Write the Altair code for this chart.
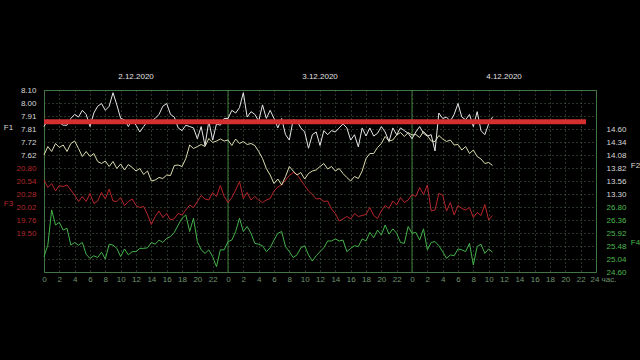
import altair as alt
import pandas as pd

# ---- data ----
f1 = [7.83,7.88,7.85,7.87,7.86,7.84,7.84,7.89,7.92,7.90,
      7.95,7.92,7.83,7.93,7.98,8.00,7.95,7.98,8.08,7.99,
      7.89,7.88,7.83,7.88,7.84,7.79,7.83,7.87,7.87,7.89,
      7.92,7.98,8.00,7.92,7.90,7.82,7.80,7.84,7.83,7.82,
      7.74,7.83,7.69,7.87,7.73,7.85,7.84,7.89,7.89,7.95,
      7.93,7.97,8.08,7.90,7.94,7.92,7.87,7.99,7.89,7.95,
      7.89,7.82,7.89,7.77,7.73,7.88,7.87,7.82,7.79,7.67,
      7.77,7.79,7.69,7.80,7.77,7.80,7.79,7.82,7.85,7.82,
      7.73,7.77,7.68,7.82,7.76,7.82,7.76,7.78,7.83,7.79,
      7.72,7.82,7.77,7.82,7.80,7.78,7.74,7.79,7.83,7.78,
      7.76,7.77,7.65,7.93,7.89,7.90,7.87,7.92,8.00,7.90,
      7.88,7.92,7.83,7.94,7.80,7.77,7.85,7.90]

f2 = [14.08,14.25,14.15,14.31,14.23,14.28,14.15,14.31,14.36,14.21,
      14.05,14.15,14.05,14.11,13.95,13.91,13.96,13.85,13.95,13.81,
      13.90,13.78,13.89,13.83,13.76,13.81,13.69,13.76,13.56,13.58,
      13.63,13.61,13.68,13.67,13.87,13.88,13.85,14.01,14.28,14.21,
      14.25,14.29,14.25,14.41,14.33,14.36,14.40,14.36,14.38,14.27,
      14.40,14.31,14.35,14.29,14.31,14.27,14.15,14.01,13.81,13.68,
      13.51,13.60,13.48,13.65,13.85,13.76,13.68,13.73,13.60,13.71,
      13.76,13.78,13.85,13.91,13.80,13.85,13.76,13.81,13.71,13.63,
      13.56,13.65,13.61,13.76,14.01,14.11,14.11,14.23,14.31,14.45,
      14.36,14.38,14.48,14.53,14.45,14.53,14.48,14.49,14.43,14.55,
      14.47,14.36,14.35,14.47,14.40,14.35,14.38,14.28,14.29,14.18,
      14.25,14.11,14.18,14.05,14.00,13.91,13.93,13.87]

f3 = [20.56,20.41,20.49,20.34,20.45,20.43,20.46,20.36,20.26,20.13,
      20.23,20.13,20.29,20.09,20.14,20.31,20.18,20.38,20.14,20.13,
      20.21,20.05,20.13,20.18,20.05,20.01,20.03,19.87,19.67,19.83,
      19.94,19.81,19.89,19.76,19.79,19.89,19.86,19.96,20.06,20.01,
      20.13,20.25,20.18,20.16,20.31,20.23,20.45,20.23,20.11,20.21,
      20.36,20.53,20.19,20.31,20.16,20.23,20.16,20.11,20.16,20.19,
      20.34,20.42,20.46,20.56,20.65,20.71,20.67,20.56,20.45,20.34,
      20.27,20.18,20.19,20.13,20.14,19.98,19.89,19.74,19.78,19.83,
      19.78,19.89,19.83,19.85,19.87,20.01,19.85,19.79,19.94,20.05,
      19.99,20.14,20.06,20.21,20.11,20.16,20.27,20.23,20.41,20.27,
      20.46,19.94,19.96,20.29,20.26,19.94,20.11,19.86,20.05,19.99,
      19.96,20.01,19.81,19.91,19.85,20.07,19.76,19.85]

f4 = [25.12,25.51,26.70,26.19,26.28,26.02,26.08,25.51,25.60,25.51,
      25.60,25.20,25.06,25.15,25.09,25.27,25.04,25.54,25.51,25.40,
      25.12,25.38,25.18,25.29,25.29,25.40,25.40,25.42,25.60,25.54,
      25.68,25.60,25.74,25.80,25.94,26.19,26.42,26.53,25.97,26.42,
      25.63,25.35,25.23,25.35,25.12,24.78,25.35,25.35,25.63,25.68,
      25.97,26.42,25.97,26.14,25.91,25.57,25.54,25.49,25.29,25.42,
      25.68,25.91,25.97,25.46,25.29,25.09,25.18,25.42,25.49,25.18,
      24.97,25.15,25.29,25.42,25.65,25.65,25.72,25.65,25.68,25.29,
      25.40,25.49,25.46,25.72,25.65,25.94,25.76,26.02,25.85,26.19,
      25.88,26.06,25.91,25.60,25.57,26.14,25.91,25.94,25.68,26.06,
      25.35,25.60,25.63,25.49,25.29,25.06,25.18,25.15,25.38,25.35,
      25.29,25.57,24.84,25.46,25.54,25.23,25.38,25.27]

f1_labels = [8.10, 8.00, 7.91, 7.81, 7.72, 7.62]
f2_labels = [14.60, 14.34, 14.08, 13.82, 13.56, 13.30]
f3_labels = [20.80, 20.54, 20.28, 20.02, 19.76, 19.50]
f4_labels = [26.80, 26.36, 25.92, 25.48, 25.04, 24.60]

dates = ["2.12.2020", "3.12.2020", "4.12.2020"]
date_hours = [12, 36, 60]
day_bounds = [24, 48]
limit_value = 7.865
limit_start = 0
limit_end = 70.7

hours = [i * 0.5 for i in range(len(f1))]
df = pd.DataFrame({"t": hours, "F1": f1, "F2": f2, "F3": f3, "F4": f4})

FONT = "Liberation Sans"
GRID = "#51684f"
FRAME = "#3f7a3f"

xscale = alt.Scale(domain=[0, 72], nice=False, zero=False)
x_axis = alt.Axis(
    values=list(range(0, 73, 2)),
    labelExpr="datum.value == 72 ? '24 час.' : '' + (datum.value % 24)",
    labelAlign={"condition": {"test": "datum.value == 72", "value": "left"}, "value": "center"},
    labelOffset={"condition": {"test": "datum.value == 72", "value": -6}, "value": 0},
    labelColor="#6f946f", labelFont=FONT, labelFontSize=8, labelPadding=3,
    domain=False, ticks=False, grid=True, gridColor=GRID, gridDash=[1, 3],
    title=None, labelFlush=False, labelOverlap=False,
)
X = alt.X("t:Q", scale=xscale, axis=x_axis)

# F1 grid lines cover all 15 horizontal lines; only first six are labeled
f1_step = (f1_labels[0] - f1_labels[-1]) / 5
f1_grid = [round(f1_labels[0] - f1_step * k, 4) for k in range(15)]


def yaxis(values, orient, color, title, tx, ty, grid=False, label_expr=None):
    kw = dict(
        values=values, orient=orient, labelColor=color, labelFont=FONT,
        labelFontSize=8, labelPadding=8 if orient == "left" else 10,
        domain=False, ticks=False, grid=grid, format=".2f",
        title=title, titleAngle=0, titleX=tx, titleY=ty, titleColor=color,
        titleFont=FONT, titleFontSize=8, titleFontWeight="normal",
        titleAlign="center", titleBaseline="middle", labelOverlap=False,
        labelFlush=False,
    )
    if grid:
        kw.update(gridColor=GRID, gridDash=[1, 3])
    if label_expr:
        kw["labelExpr"] = label_expr
    return alt.Axis(**kw)


s1 = alt.Scale(domain=[f1_grid[-1], f1_labels[0]], nice=False, zero=False)
s2 = alt.Scale(domain=[11.74, 15.38], nice=False, zero=False)
s3 = alt.Scale(domain=[18.72, 22.36], nice=False, zero=False)
s4 = alt.Scale(domain=[24.60, 30.76], nice=False, zero=False)

base = alt.Chart(df)

l1 = base.mark_line(color="#e6e6e6", strokeWidth=1).encode(
    x=X, y=alt.Y("F1:Q", scale=s1, axis=yaxis(
        f1_grid, "left", "#d8d8d8", "F1", -36, 37, grid=True,
        label_expr="datum.value >= 7.6 ? format(datum.value, '.2f') : ''")))
l3 = base.mark_line(color="#b8262a", strokeWidth=1).encode(
    x=X, y=alt.Y("F3:Q", scale=s3, axis=yaxis(f3_labels, "left", "#b0282a", "F3", -36, 113)))
l2 = base.mark_line(color="#dcdcae", strokeWidth=1).encode(
    x=X, y=alt.Y("F2:Q", scale=s2, axis=yaxis(f2_labels, "right", "#d8d8d8", "F2", 39, 75)))
l4 = base.mark_line(color="#45b34a", strokeWidth=1).encode(
    x=X, y=alt.Y("F4:Q", scale=s4, axis=yaxis(f4_labels, "right", "#4cb84c", "F4", 39, 152)))

days = alt.Chart(pd.DataFrame({"t": day_bounds})).mark_rule(
    color=FRAME, strokeWidth=1).encode(x=X)

limit = alt.Chart(pd.DataFrame({"t": [limit_start], "t2": [limit_end], "v": [limit_value]})).mark_rule(
    color="#d3302f", strokeWidth=5).encode(
    x=X, x2="t2:Q", y=alt.Y("v:Q", scale=s1, axis=None))

date_text = alt.Chart(pd.DataFrame({"t": date_hours, "label": dates})).mark_text(
    color="#e0e0e0", font=FONT, fontSize=8, baseline="middle", align="center").encode(
    x=X, y=alt.value(-13), text="label:N")

chart = alt.layer(days, l4, l3, l2, l1, limit, date_text).resolve_scale(
    y="independent"
).properties(
    width=552, height=182,
    autosize=alt.AutoSizeParams(type="none"),
    padding={"left": 44, "top": 90, "right": 44, "bottom": 88},
    background="black",
).configure_view(stroke=FRAME, strokeWidth=1)

chart.save("out.html", embed_options={"renderer": "svg", "actions": False})
